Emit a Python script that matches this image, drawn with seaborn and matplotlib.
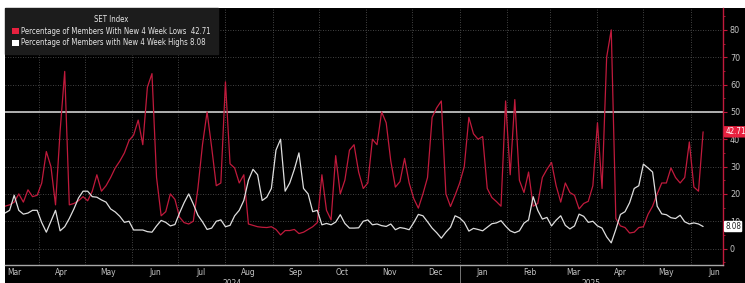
import matplotlib
matplotlib.use("Agg")
import matplotlib.pyplot as plt
import matplotlib.dates as mdates
import matplotlib.transforms as mtransforms
from matplotlib.patches import Patch, Rectangle
from matplotlib.ticker import NullFormatter, MultipleLocator
import pandas as pd
import seaborn as sns

# SET Index breadth, one reading every 3 days from 2024-03-10 to 2025-06-09
dates = pd.date_range("2024-03-10", periods=153, freq="3D")

lows = [15.5, 16, 17, 20, 17, 21.5, 19, 19.5, 24, 35.5,
        30, 16, 43, 64.8, 16, 16.5, 17.5, 19, 17.5, 21,
        27, 21, 23, 26, 29.5, 32, 35, 39.5, 41.5, 47,
        38, 59, 64, 26, 12, 13.5, 20, 18, 11.5, 9.5,
        9, 10, 22, 38, 50, 37, 23, 24, 61, 31,
        29.5, 24, 27, 9, 8.5, 8, 7.8, 7.7, 8, 7,
        5, 6.6, 6.6, 7, 5.5, 6, 7, 8, 9.5, 27,
        14, 10.5, 34, 20, 25, 36, 38, 28, 22, 24,
        40, 38, 50, 46, 32, 22.5, 24.5, 33, 24, 18.3,
        14.8, 20, 26, 48, 51.5, 54, 20, 15.4, 19.5, 24,
        30, 48, 42, 40, 41, 22, 18.7, 17.2, 15.5, 54,
        27, 54.5, 25, 20.5, 28, 15.5, 16.5, 26, 29, 31.5,
        23, 17, 24, 20.5, 19.5, 14.5, 16.5, 17.3, 23, 46,
        22, 70, 80, 11, 8.3, 7.7, 5.7, 6, 7.7, 8,
        12.5, 15.5, 20, 24, 24, 29.5, 26, 24, 26, 39,
        22.5, 21, 42.71]

highs = [13, 14, 19.5, 14, 12.6, 13, 14, 14, 9.5, 6,
         10, 14, 6.5, 8, 11, 14.5, 18.5, 21, 21, 19,
         18.8, 17.8, 17, 14.5, 13.4, 11.8, 9.6, 10, 6.8, 6.8,
         6.8, 6.2, 6, 8.3, 10.3, 9.6, 8.3, 8.8, 13, 16.8,
         20, 16.3, 12.2, 9.8, 7, 7.5, 10, 10.5, 8, 8.5,
         12, 14, 17.6, 25, 29, 27, 17.6, 18.8, 22, 36,
         40, 21, 24, 29, 35, 22, 20, 13.5, 14, 8.7,
         9.2, 8.7, 9.7, 12.4, 9.2, 7.5, 7.5, 7.6, 10, 10.5,
         8.7, 9, 8.4, 8.1, 9, 6.9, 7.7, 7.4, 6.9, 9.5,
         12.5, 12, 9.8, 7.5, 5.8, 3.8, 6, 7.8, 12, 11.2,
         9.6, 6.4, 7.4, 7, 6.5, 7.8, 9.1, 9.4, 10.2, 8.2,
         6.5, 5.8, 6.5, 9.3, 10.5, 19, 14, 10.8, 11.4, 8.3,
         10.4, 12, 8.5, 7.2, 8.3, 12.6, 11.8, 9.6, 10, 8.3,
         7.5, 4.3, 2.1, 7, 12.5, 13.5, 16.8, 22, 23, 30.9,
         29.5, 28, 15.5, 12.7, 12.4, 11.3, 11, 12.2, 9.8, 9,
         9.4, 9, 8.08]

title = "SET Index"
label_lows = "Percentage of Members With New 4 Week Lows  42.71"
label_highs = "Percentage of Members with New 4 Week Highs 8.08"
last_lows = "42.71"
last_highs = "8.08"

df = pd.DataFrame({"date": dates, "lows": lows, "highs": highs})

RED = "#c01a3c"
BRIGHT_RED = "#e8213f"
WHITE = "#dedede"
TXT = "#c4c4c4"

sns.set_style("dark")
plt.rcParams["font.family"] = ["DejaVu Sans"]
plt.rcParams["font.stretch"] = "condensed"

fig = plt.figure(figsize=(7.45, 2.83), dpi=100, facecolor="white")
fig.patches.append(Rectangle((5 / 745, 0), 1, 275 / 283, transform=fig.transFigure,
                             facecolor="black", edgecolor="none", zorder=-10))
ax = fig.add_axes([5 / 745, 18 / 283, 718 / 745, 257 / 283])
ax.set_facecolor("black")

sns.lineplot(data=df, x="date", y="lows", ax=ax, color=RED, lw=0.9)
sns.lineplot(data=df, x="date", y="highs", ax=ax, color=WHITE, lw=0.9)
ax.axhline(50, color="#bdbdbd", lw=1.3, zorder=1)

ax.set_xlim(pd.Timestamp("2024-03-10"), pd.Timestamp("2025-06-22"))
ax.set_ylim(-6, 88)
ax.set_xlabel("")
ax.set_ylabel("")

# y axis on the right
ax.yaxis.tick_right()
ax.set_yticks(range(0, 90, 10))
ax.yaxis.set_minor_locator(MultipleLocator(5))
ax.tick_params(axis="y", which="major", direction="out", length=3, width=0.8,
               color=RED, labelcolor=TXT, labelsize=6.5, pad=2)
ax.tick_params(axis="y", which="minor", direction="out", length=1.5, width=0.6, color=RED)

# x axis: ticks at month boundaries, labels mid-month
ax.xaxis.set_major_locator(mdates.MonthLocator())
ax.xaxis.set_major_formatter(NullFormatter())
ax.xaxis.set_minor_locator(mdates.MonthLocator(bymonthday=16))
ax.xaxis.set_minor_formatter(mdates.DateFormatter("%b"))
ax.tick_params(axis="x", which="major", direction="out", length=3, width=0.6, color="#888888")
ax.tick_params(axis="x", which="minor", length=0, labelcolor=TXT, labelsize=6, pad=2)

ax.grid(True, which="major", color="#5a5a5a", ls=(0, (1, 2)), lw=0.6)
ax.grid(False, which="minor")

for s in ["top", "left"]:
    ax.spines[s].set_visible(False)
ax.spines["bottom"].set_color("#a8a8a8")
ax.spines["bottom"].set_linewidth(1)
ax.spines["right"].set_color(RED)
ax.spines["right"].set_linewidth(1)

# year labels and year separator
bt = mtransforms.blended_transform_factory(ax.transData, ax.transAxes)
jan25 = pd.Timestamp("2025-01-01")
ax.plot([jan25, jan25], [0, -0.08], transform=bt, color="#888888", lw=0.6, clip_on=False)
mid24 = pd.Timestamp("2024-03-10") + (jan25 - pd.Timestamp("2024-03-10")) / 2
mid25 = jan25 + (pd.Timestamp("2025-06-22") - jan25) / 2
ax.text(mid24, -0.055, "2024", transform=bt, ha="center", va="top", fontsize=6, color=TXT)
ax.text(mid25, -0.055, "2025", transform=bt, ha="center", va="top", fontsize=6, color=TXT)

# last value boxes
rt = mtransforms.blended_transform_factory(ax.transAxes, ax.transData)
ax.text(1.003, lows[-1], last_lows, transform=rt, ha="left", va="center", fontsize=5.8,
        color="white", clip_on=False, zorder=5,
        bbox=dict(boxstyle="round,pad=0.15", fc=BRIGHT_RED, ec="none"))
ax.text(1.003, highs[-1], last_highs, transform=rt, ha="left", va="center", fontsize=5.8,
        color="#222222", clip_on=False, zorder=5,
        bbox=dict(boxstyle="round,pad=0.15", fc="white", ec="none"))

# legend
handles = [Patch(facecolor=BRIGHT_RED, edgecolor="none"),
           Patch(facecolor="white", edgecolor="none")]
leg = ax.legend(handles, [label_lows, label_highs], title=title, loc="upper left",
                bbox_to_anchor=(0, 1), borderaxespad=0, frameon=True, fancybox=False,
                facecolor="#1c1c1c", edgecolor="#1c1c1c", framealpha=1,
                fontsize=5.6, title_fontsize=5.6, labelcolor="#e6e6e6",
                handlelength=0.9, handleheight=0.9, handletextpad=0.3,
                borderpad=0.9, labelspacing=0.35)
leg.get_title().set_color("#e6e6e6")

fig.savefig("out.png", dpi=100, facecolor=fig.get_facecolor())
